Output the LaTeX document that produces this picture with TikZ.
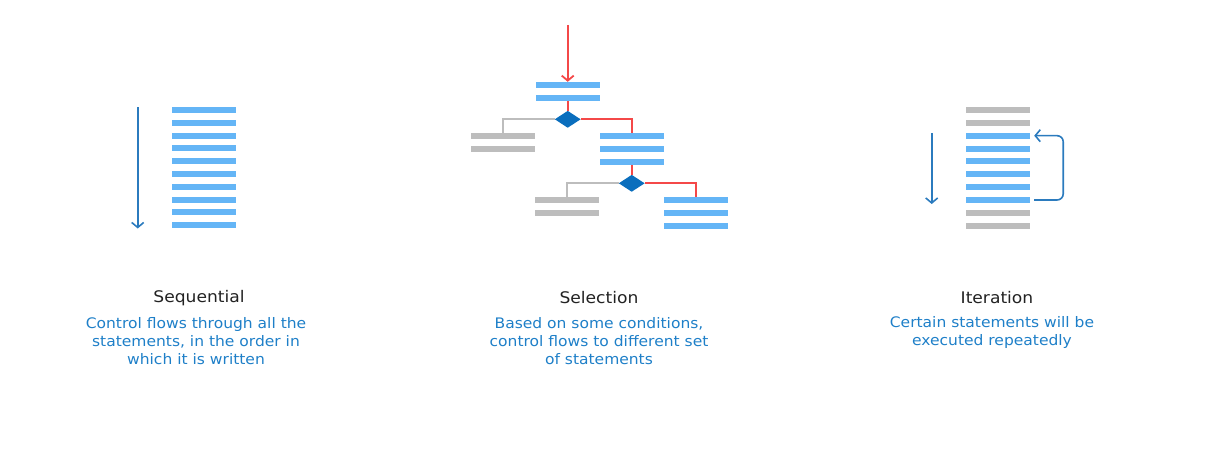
\documentclass[tikz,border=0pt]{standalone}
\usepackage{fontspec}
\setmainfont[FakeStretch=1.07]{DejaVu Sans}
\usetikzlibrary{arrows.meta,shapes.geometric}
\definecolor{barblue}{HTML}{64B5F6}
\definecolor{bargray}{HTML}{BDBDBD}
\definecolor{flowblue}{HTML}{2B7BBE}
\definecolor{diablue}{HTML}{0A6EBD}
\definecolor{flowred}{HTML}{F44848}
\definecolor{txtblue}{HTML}{1E7FC8}
\definecolor{txtdark}{HTML}{222222}
\tikzset{
  bbar/.style={rectangle, minimum width=64pt, minimum height=6pt, inner sep=0pt, fill=barblue},
  gbar/.style={rectangle, minimum width=64pt, minimum height=6pt, inner sep=0pt, fill=bargray},
  decis/.style={diamond, aspect=1.5, minimum width=26pt, minimum height=17pt, inner sep=0pt, fill=diablue},
  redline/.style={draw=flowred, line width=1.8pt},
  grayline/.style={draw=bargray, line width=1.8pt},
  flowarrow/.style={draw=flowblue, line width=1.6pt, -{Straight Barb[length=5pt,width=12pt]}},
  redarrow/.style={draw=flowred, line width=1.8pt, -{Straight Barb[length=5pt,width=12pt]}},
  heading/.style={font=\fontsize{16}{19}\selectfont, text=txtdark, inner sep=0pt},
  desc/.style={font=\fontsize{14.5}{18}\selectfont, text=txtblue, align=center, inner sep=0pt}
}
\begin{document}
\begin{tikzpicture}[x=1pt,y=-1pt]
\useasboundingbox (0,0) rectangle (1225,465);
% ---------- Sequential ----------
\foreach \i in {0,...,9} {
  \node[bbar] (s\i) at (204,{110+12.8*\i}) {};
}
\coordinate (sqa) at (137.7,107.5);
\coordinate (sqb) at (137.7,228.5);
\draw[flowarrow] (sqa) -- (sqb);
\node[heading] (seqh) at (199,298) {Sequential};
\node[desc] (seqd) at (196,341) {Control flows through all the\\statements, in the order in\\which it is written};
% ---------- Selection ----------
\node[bbar] (t1) at (567.7,85) {};
\node[bbar] (t2) at (567.7,97.7) {};
\node[decis] (d1) at (567.7,119.3) {};
\node[gbar] (g1a) at (502.7,136) {};
\node[gbar] (g1b) at (502.7,148.7) {};
\node[bbar] (b2a) at (631.7,136) {};
\node[bbar] (b2b) at (631.7,148.9) {};
\node[bbar] (b2c) at (631.7,161.7) {};
\node[decis] (d2) at (631.7,183.3) {};
\node[gbar] (g2a) at (566.7,200) {};
\node[gbar] (g2b) at (566.7,212.7) {};
\node[bbar] (b3a) at (695.7,200) {};
\node[bbar] (b3b) at (695.7,212.9) {};
\node[bbar] (b3c) at (695.7,225.7) {};
\coordinate (ra) at (567.7,25);
\draw[redarrow] (ra) -- (t1.north);
\draw[redline] (t2.south) -- (d1.north);
\draw[grayline] (d1.west) -| (g1a.north);
\draw[redline] (d1.east) -| (b2a.north);
\draw[redline] (b2c.south) -- (d2.north);
\draw[grayline] (d2.west) -| (g2a.north);
\draw[redline] (d2.east) -| (b3a.north);
\node[heading] (selh) at (599,298) {Selection};
\node[desc] (seld) at (599,341) {Based on some conditions,\\control flows to different set\\of statements};
% ---------- Iteration ----------
\foreach \i/\c in {0/gbar,1/gbar,2/bbar,3/bbar,4/bbar,5/bbar,6/bbar,7/bbar,8/gbar,9/gbar} {
  \node[\c] (it\i) at (998,{110+12.85*\i}) {};
}
\coordinate (ia) at (931.7,133);
\coordinate (ib) at (931.7,204);
\draw[flowarrow] (ia) -- (ib);
\draw[flowarrow, rounded corners=6pt] ([xshift=4pt]it7.east) -- ++(29,0) |- ([xshift=4pt]it2.east);
\node[heading] (iteh) at (997,298) {Iteration};
\node[desc] (ited) at (992,332) {Certain statements will be\\executed repeatedly};
\end{tikzpicture}
\end{document}
